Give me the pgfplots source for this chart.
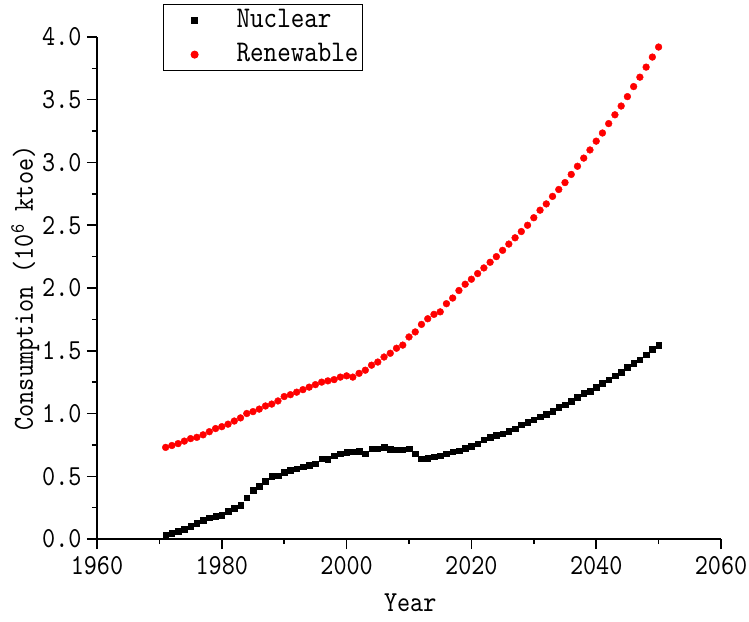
\documentclass[border=0pt]{standalone}
\usepackage{fontspec}
\newfontfamily\chartfont{lmmono10-regular.otf}[FakeStretch=0.86]
\usepackage{pgfplots}
\pgfplotsset{compat=1.18}

\pgfplotstableread{
year nuc
1971 0.03
1972 0.045
1973 0.06
1974 0.08
1975 0.10
1976 0.125
1977 0.15
1978 0.17
1979 0.18
1980 0.19
1981 0.22
1982 0.245
1983 0.27
1984 0.33
1985 0.39
1986 0.42
1987 0.46
1988 0.50
1989 0.505
1990 0.53
1991 0.55
1992 0.56
1993 0.575
1994 0.59
1995 0.60
1996 0.64
1997 0.635
1998 0.665
1999 0.68
2000 0.69
2001 0.695
2002 0.70
2003 0.68
2004 0.72
2005 0.72
2006 0.73
2007 0.715
2008 0.71
2009 0.71
2010 0.72
2011 0.68
2012 0.64
2013 0.645
2014 0.655
2015 0.665
2016 0.68
2017 0.695
2018 0.705
2019 0.725
2020 0.74
2021 0.76
2022 0.79
2023 0.81
2024 0.826
2025 0.84
2026 0.86
2027 0.88
2028 0.91
2029 0.93
2030 0.95
2031 0.975
2032 0.996
2033 1.02
2034 1.05
2035 1.07
2036 1.10
2037 1.13
2038 1.16
2039 1.18
2040 1.21
2041 1.24
2042 1.27
2043 1.30
2044 1.33
2045 1.37
2046 1.40
2047 1.43
2048 1.47
2049 1.51
2050 1.545
}\nuclear

\pgfplotstableread{
year ren
1971 0.73
1972 0.745
1973 0.76
1974 0.78
1975 0.80
1976 0.81
1977 0.83
1978 0.855
1979 0.88
1980 0.895
1981 0.915
1982 0.94
1983 0.965
1984 1.00
1985 1.015
1986 1.035
1987 1.06
1988 1.075
1989 1.10
1990 1.135
1991 1.15
1992 1.17
1993 1.19
1994 1.21
1995 1.23
1996 1.25
1997 1.26
1998 1.27
1999 1.29
2000 1.30
2001 1.29
2002 1.32
2003 1.345
2004 1.385
2005 1.41
2006 1.45
2007 1.48
2008 1.52
2009 1.545
2010 1.61
2011 1.65
2012 1.71
2013 1.755
2014 1.79
2015 1.81
2016 1.875
2017 1.92
2018 1.98
2019 2.03
2020 2.07
2021 2.115
2022 2.16
2023 2.205
2024 2.25
2025 2.30
2026 2.35
2027 2.40
2028 2.45
2029 2.50
2030 2.56
2031 2.62
2032 2.67
2033 2.73
2034 2.785
2035 2.84
2036 2.905
2037 2.97
2038 3.035
2039 3.10
2040 3.17
2041 3.235
2042 3.31
2043 3.38
2044 3.45
2045 3.525
2046 3.605
2047 3.68
2048 3.76
2049 3.84
2050 3.92
}\renewable

\begin{document}
\begin{tikzpicture}
\begin{axis}[
    scale only axis,
    width=624pt, height=502pt,
    xmin=1960, xmax=2060,
    ymin=0, ymax=4,
    xtick={1960,1980,...,2060},
    ytick={0,0.5,...,4},
    minor x tick num=1,
    minor y tick num=1,
    axis x line*=bottom,
    axis y line*=left,
    axis line style={line width=1.8pt, -},
    tick style={line width=1.5pt, black},
    tick align=outside,
    major tick length=10pt,
    minor tick length=5pt,
    /pgf/number format/assume math mode=true,
    x tick label style={/pgf/number format/1000 sep={}, font=\chartfont\fontsize{29}{29}\selectfont, yshift=-4pt},
    y tick label style={/pgf/number format/fixed, /pgf/number format/precision=1, /pgf/number format/fixed zerofill, font=\chartfont\fontsize{29}{29}\selectfont, xshift=-2pt},
    xlabel={Year},
    ylabel={Consumption (10\textsuperscript{6} ktoe)},
    label style={font=\chartfont\fontsize{29}{29}\selectfont},
    xlabel style={at={(rel axis cs:0.502,-0.1275)}, anchor=center},
    ylabel style={at={(rel axis cs:-0.115,0.5)}, anchor=center},
    legend style={at={(rel axis cs:0.1058,1.0657)}, anchor=north west,
        draw=black, line width=1.2pt, inner xsep=0pt, inner ysep=2pt,
        font=\chartfont\fontsize{30}{30}\selectfont,
        row sep=6pt,
        nodes={inner xsep=4pt, inner ysep=2pt, text height=19pt, text depth=5pt}},
    legend cell align=left,
    legend image code/.code={\path[draw=none] (0pt,-6pt) rectangle (69pt,6pt); \draw[#1] plot coordinates {(31pt,0pt)};},
]
\addplot[only marks, mark=square*, mark size=2.8pt, black] table[x=year, y=nuc] {\nuclear};
\addplot[only marks, mark=*, mark size=3.4pt, red, mark options={draw=red, fill=red}] table[x=year, y=ren] {\renewable};
\legend{Nuclear, Renewable}
\end{axis}
\pgfresetboundingbox
\path (-97pt,-82pt) rectangle (652pt,539pt);
\end{tikzpicture}
\end{document}
